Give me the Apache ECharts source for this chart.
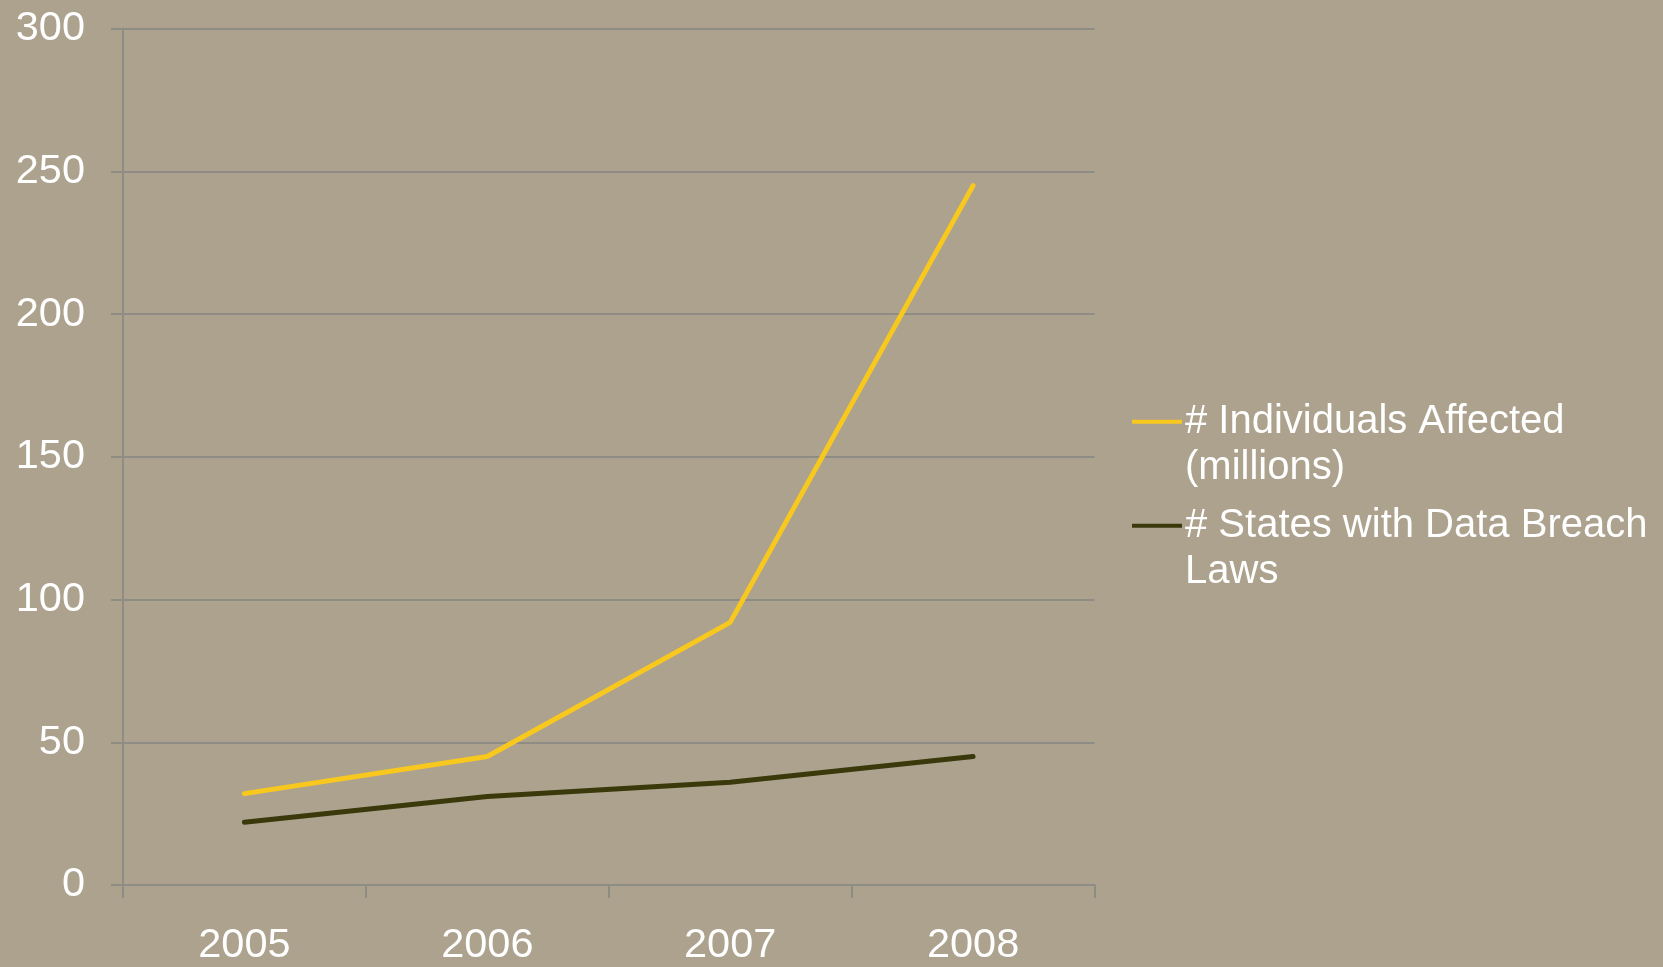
<!DOCTYPE html>
<html>
<head>
<meta charset="utf-8">
<script src="https://cdn.jsdelivr.net/npm/echarts@6/dist/echarts.min.js"></script>
<style>
html,body{margin:0;padding:0;background:#ACA28D;}
#chart{width:1663px;height:967px;}
</style>
</head>
<body>
<div id="chart"></div>
<script>
const categories = ['2005', '2006', '2007', '2008'];
const individualsAffected = [32, 45, 92, 245];
const statesWithLaws = [22, 31, 36, 45];
const seriesNames = ['# Individuals Affected (millions)', '# States with Data Breach Laws'];
const legendLabels = ['# Individuals Affected\n(millions)', '# States with Data Breach\nLaws'];
const yTicks = { min: 0, max: 300, interval: 50 };

const FONT = '"Liberation Sans", Arial, sans-serif';
const gridColor = '#8f8b85';
const yellow = '#F8C81F';
const dark = '#3A390C';

const chart = echarts.init(document.getElementById('chart'));

function legendFor(i, top) {
  return {
    data: [seriesNames[i]],
    left: 1132,
    top: top,
    orient: 'vertical',
    padding: 0,
    icon: 'rect',
    itemWidth: 50,
    itemHeight: 4,
    selectedMode: false,
    // leading empty line keeps the first text line level with the icon
    formatter: () => '\n' + legendLabels[i],
    textStyle: {
      color: '#ffffff',
      fontFamily: FONT,
      fontSize: 40,
      lineHeight: 46.5,
      padding: [0, 0, 0, -2]
    }
  };
}

chart.setOption({
  backgroundColor: '#ACA28D',
  animation: false,
  grid: { left: 123, right: 568.5, top: 28.6, bottom: 81.4 },
  legend: [legendFor(0, 352), legendFor(1, 456)],
  xAxis: {
    type: 'category',
    data: categories,
    boundaryGap: true,
    axisLine: { show: true, lineStyle: { color: gridColor, width: 2 } },
    axisTick: { show: true, length: 13, alignWithLabel: false, lineStyle: { color: gridColor, width: 2 } },
    axisLabel: { color: '#ffffff', fontFamily: FONT, fontSize: 41.5, margin: 40 },
    splitLine: { show: false }
  },
  yAxis: {
    type: 'value',
    min: yTicks.min,
    max: yTicks.max,
    interval: yTicks.interval,
    axisLine: { show: true, lineStyle: { color: gridColor, width: 2 } },
    axisTick: { show: true, length: 12, lineStyle: { color: gridColor, width: 2 } },
    axisLabel: { color: '#ffffff', fontFamily: FONT, fontSize: 41.5, margin: 38 },
    splitLine: { show: true, lineStyle: { color: gridColor, width: 2 } }
  },
  series: [
    {
      name: seriesNames[0],
      type: 'line',
      data: individualsAffected,
      color: yellow,
      showSymbol: false,
      lineStyle: { color: yellow, width: 5, cap: 'round', join: 'round' },
      itemStyle: { color: yellow }
    },
    {
      name: seriesNames[1],
      type: 'line',
      data: statesWithLaws,
      color: dark,
      showSymbol: false,
      lineStyle: { color: dark, width: 5, cap: 'round', join: 'round' },
      itemStyle: { color: dark }
    }
  ]
});
</script>
</body>
</html>
